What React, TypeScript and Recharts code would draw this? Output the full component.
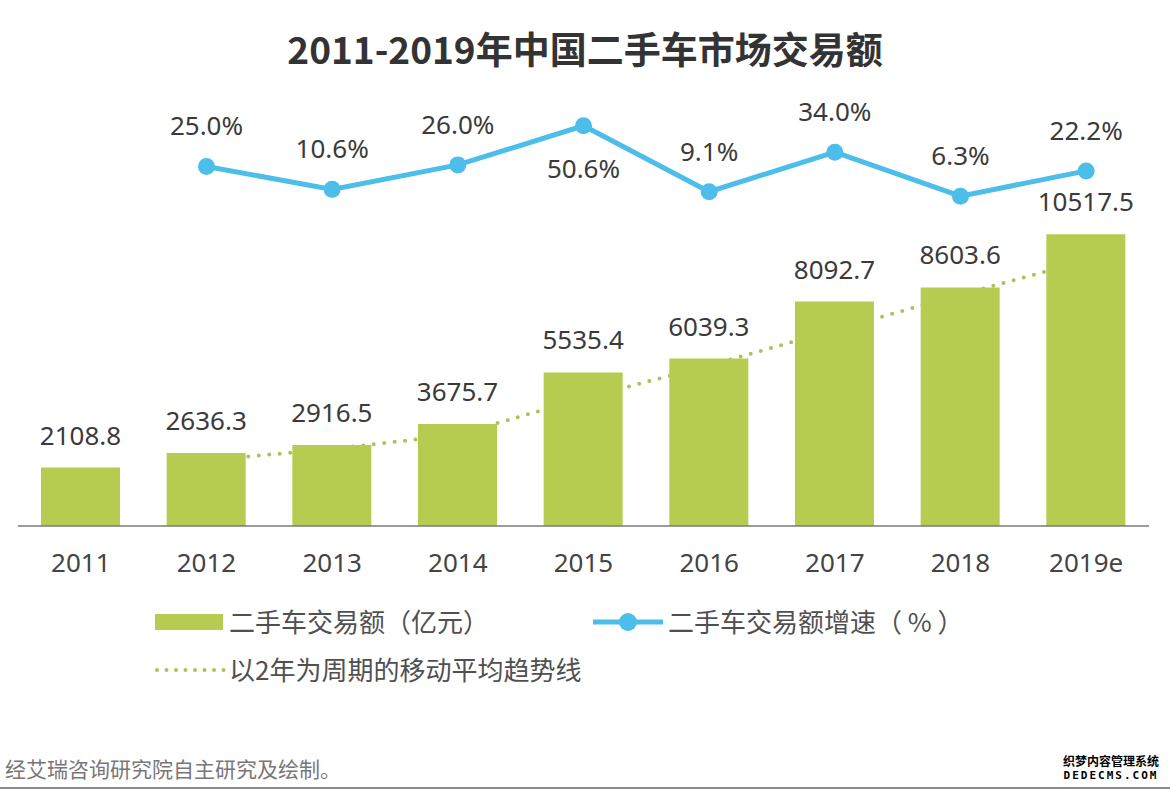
import React from 'react';
import { ComposedChart, Bar, Line, XAxis, YAxis, LabelList } from 'recharts';

const years = ['2011', '2012', '2013', '2014', '2015', '2016', '2017', '2018', '2019e'];
const tradeValue = [2108.8, 2636.3, 2916.5, 3675.7, 5535.4, 6039.3, 8092.7, 8603.6, 10517.5];
const growthRate = [null, 25.0, 10.6, 26.0, 50.6, 9.1, 34.0, 6.3, 22.2];
const movingAvg = [null, 2372.6, 2776.4, 3296.1, 4605.6, 5787.4, 7066.0, 8348.2, 9560.6];

const BAR_COLOR = '#b5cc50';
const LINE_COLOR = '#4dbde9';
const TREND_COLOR = '#a8c35a';
const FONT = '"Noto Sans", "Noto Sans CJK SC", sans-serif';
const CJK = '"Noto Sans CJK SC", sans-serif';

const data = years.map((y, i) => ({
  year: y,
  value: tradeValue[i],
  growth: growthRate[i],
  trend: movingAvg[i],
}));

const GrowthLabel = (props: any) => {
  const { x, y, index } = props;
  const v = growthRate[index];
  if (x == null || y == null || v == null) return null;
  const below = index === 4;
  return (
    <text
      x={x}
      y={below ? y + 52 : y - 31}
      textAnchor="middle"
      fill="#3a3a3a"
      fontSize={26}
      fontFamily={FONT}
    >
      {v.toFixed(1) + '%'}
    </text>
  );
};

export default function App() {
  return (
    <div
      style={{
        position: 'absolute',
        left: 0,
        top: 0,
        width: 1170,
        height: 790,
        background: '#fff',
        overflow: 'hidden',
        fontFamily: FONT,
      }}
    >
      <div
        style={{
          position: 'absolute',
          left: 0,
          top: 26,
          width: 1170,
          textAlign: 'center',
          fontSize: 37,
          lineHeight: '44px',
          fontWeight: 700,
          color: '#333',
          fontFamily: CJK,
        }}
      >
        2011-2019年中国二手车市场交易额
      </div>

      <div style={{ position: 'absolute', left: 0, top: 0 }}>
        <ComposedChart
          width={1170}
          height={600}
          data={data}
          margin={{ top: 100, right: 21, bottom: 14, left: 18 }}
        >
          <XAxis
            dataKey="year"
            interval={0}
            height={60}
            tickLine={false}
            tickMargin={22}
            axisLine={{ stroke: '#7a7a7a', strokeWidth: 1.5 }}
            tick={{ fontSize: 26, fill: '#444', fontFamily: FONT }}
          />
          <YAxis yAxisId="left" hide domain={[0, 15360]} allowDataOverflow />
          <YAxis yAxisId="right" hide domain={[-201.1, 66.8]} allowDataOverflow />
          <Line
            yAxisId="left"
            dataKey="trend"
            type="linear"
            stroke={TREND_COLOR}
            strokeWidth={4}
            strokeDasharray="0 10.5"
            strokeLinecap="round"
            dot={false}
            activeDot={false}
            isAnimationActive={false}
            zIndex={200}
          />
          <Bar
            yAxisId="left"
            dataKey="value"
            fill={BAR_COLOR}
            barSize={79}
            isAnimationActive={false}
          >
            <LabelList
              dataKey="value"
              position="top"
              offset={23}
              fill="#3a3a3a"
              fontSize={26}
              fontFamily={FONT}
              formatter={(v: any) => Number(v).toFixed(1)}
            />
          </Bar>
          <Line
            yAxisId="right"
            dataKey="growth"
            type="linear"
            stroke={LINE_COLOR}
            strokeWidth={5}
            dot={{ r: 8.5, fill: LINE_COLOR, stroke: LINE_COLOR, strokeWidth: 0 }}
            activeDot={false}
            isAnimationActive={false}
          >
            <LabelList dataKey="growth" content={<GrowthLabel />} />
          </Line>
        </ComposedChart>
      </div>

      {/* Legend */}
      <div style={{ position: 'absolute', left: 155, top: 614, width: 68, height: 16, background: BAR_COLOR }} />
      <div style={{ position: 'absolute', left: 229, top: 605, fontSize: 26, lineHeight: '32px', color: '#505050', fontFamily: CJK }}>
        二手车交易额（亿元）
      </div>
      <svg style={{ position: 'absolute', left: 590, top: 608 }} width={76} height={30}>
        <line x1={3} y1={14} x2={73} y2={14} stroke={LINE_COLOR} strokeWidth={5} />
        <circle cx={38} cy={14} r={9} fill={LINE_COLOR} />
      </svg>
      <div style={{ position: 'absolute', left: 668, top: 605, fontSize: 26, lineHeight: '32px', color: '#505050', fontFamily: CJK }}>
        二手车交易额增速（ % ）
      </div>
      <svg style={{ position: 'absolute', left: 150, top: 662 }} width={80} height={16}>
        <line x1={7} y1={8} x2={74} y2={8} stroke={TREND_COLOR} strokeWidth={4} strokeDasharray="0 9.5" strokeLinecap="round" />
      </svg>
      <div style={{ position: 'absolute', left: 229, top: 653, fontSize: 26, lineHeight: '32px', color: '#505050', fontFamily: CJK }}>
        以2年为周期的移动平均趋势线
      </div>

      {/* Footer */}
      <div style={{ position: 'absolute', left: 5, top: 755, fontSize: 21, lineHeight: '26px', color: '#777', fontFamily: CJK }}>
        经艾瑞咨询研究院自主研究及绘制。
      </div>
      <div style={{ position: 'absolute', left: 1061, top: 754, width: 100, textAlign: 'center', fontSize: 12, lineHeight: '13px', fontWeight: 700, color: '#000', fontFamily: CJK }}>
        织梦内容管理系统
        <br />
        <span style={{ letterSpacing: 2, fontFamily: '"DejaVu Sans Mono", monospace', fontSize: 11 }}>DEDECMS.COM</span>
      </div>
      <div style={{ position: 'absolute', left: 0, top: 787, width: 1170, height: 2, background: '#8a8a8a' }} />
    </div>
  );
}
